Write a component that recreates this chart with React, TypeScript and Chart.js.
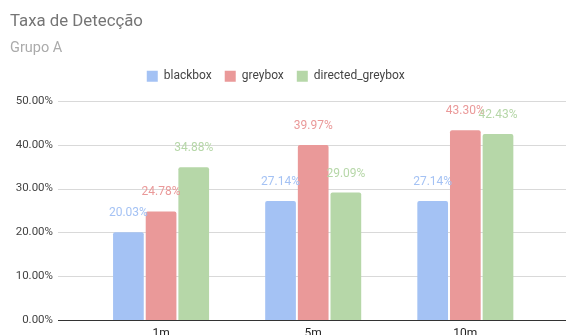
import React, { useEffect, useRef } from "react";
import { Chart, registerables } from "chart.js";

Chart.register(...registerables);

const categories = ["1m", "5m", "10m"];
const seriesNames = ["blackbox", "greybox", "directed_greybox"];
const blackbox = [20.03, 27.14, 27.14];
const greybox = [24.78, 39.97, 43.3];
const directedGreybox = [34.88, 29.09, 42.43];
const seriesColors = ["#a4c2f4", "#ea9999", "#b6d7a8"];
const yTicks = [0, 10, 20, 30, 40, 50];

const FONT = "Roboto";

const legendGap = {
  id: "legendGap",
  beforeLayout(chart: any) {
    const lg = chart.legend;
    if (lg && !lg.__patched) {
      const orig = lg.fit.bind(lg);
      lg.fit = function () {
        orig();
        this.height += 8.8;
      };
      lg.__patched = true;
    }
  },
};

const gridPlugin = {
  id: "customGrid",
  beforeDatasetsDraw(chart: any) {
    const { ctx, chartArea, scales } = chart;
    const y = scales.y;
    ctx.save();
    ctx.lineWidth = 1;
    for (const t of y.ticks) {
      if (t.value === 0) continue;
      const py = Math.round(y.getPixelForValue(t.value)) + 0.5;
      ctx.strokeStyle = "#d9d9d9";
      ctx.beginPath();
      ctx.moveTo(chartArea.left - 27, py);
      ctx.lineTo(chart.width, py);
      ctx.stroke();
    }
    ctx.restore();
  },
  afterDatasetsDraw(chart: any) {
    const { ctx, chartArea, scales } = chart;
    const y = scales.y;
    ctx.save();
    const py = Math.round(y.getPixelForValue(0)) + 0.5;
    ctx.strokeStyle = "#333333";
    ctx.lineWidth = 1;
    ctx.beginPath();
    ctx.moveTo(chartArea.left - 27, py);
    ctx.lineTo(chart.width, py);
    ctx.stroke();

    ctx.font = `12px ${FONT}`;
    ctx.textAlign = "center";
    ctx.textBaseline = "middle";
    chart.data.datasets.forEach((ds: any, i: number) => {
      const meta = chart.getDatasetMeta(i);
      ctx.fillStyle = ds.backgroundColor;
      meta.data.forEach((el: any, j: number) => {
        const v = ds.data[j] as number;
        ctx.fillText(v.toFixed(2) + "%", el.x, el.y - 19);
      });
    });
    ctx.restore();
  },
};

export default function App() {
  const ref = useRef<HTMLCanvasElement>(null);
  useEffect(() => {
    if (!ref.current) return;
    const seriesData = [blackbox, greybox, directedGreybox];
    const chart = new Chart(ref.current, {
      type: "bar",
      data: {
        labels: categories,
        datasets: seriesNames.map((name, i) => ({
          label: name,
          data: seriesData[i],
          backgroundColor: seriesColors[i],
          borderWidth: 0,
          borderRadius: 2,
          categoryPercentage: 0.644,
          barPercentage: 0.94,
        })),
      },
      options: {
        animation: false,
        responsive: false,
        devicePixelRatio: 1,
        layout: { padding: { top: 0, left: 10, right: 24.6, bottom: 0 } },
        plugins: {
          title: {
            display: true,
            text: "Taxa de Detecção",
            align: "start",
            color: "#757575",
            font: { family: FONT, size: 16.8, weight: "normal" },
            padding: { top: 12, bottom: 7.6 },
          },
          subtitle: {
            display: true,
            text: "Grupo A",
            align: "start",
            color: "#ababab",
            font: { family: FONT, size: 14.5, weight: "normal" },
            padding: { top: 0, bottom: 0 },
          },
          legend: {
            display: true,
            position: "top",
            labels: {
              font: { family: FONT, size: 12 },
              color: "#444444",
              boxWidth: 11,
              boxHeight: 11,
              padding: 13,
            },
          },
          tooltip: { enabled: false },
        },
        scales: {
          x: {
            grid: { display: false, drawTicks: false },
            border: { display: false },
            ticks: {
              font: { family: FONT, size: 12 },
              color: "#222222",
              padding: 7,
            },
            afterFit: (s: any) => {
              s.height = 15;
            },
          },
          y: {
            min: 0,
            max: 50,
            grid: { display: false, drawTicks: false },
            border: { display: false },
            ticks: {
              stepSize: 10,
              font: { family: FONT, size: 11.5 },
              color: "#444444",
              padding: 32,
              callback: (v: any) => Number(v).toFixed(2) + "%",
            },
            afterBuildTicks: (s: any) => {
              s.ticks = yTicks.map((v) => ({ value: v }));
            },
            afterFit: (s: any) => {
              s.width = 75;
              s.paddingTop = 7;
              s.paddingBottom = 7;
            },
          },
        },
      },
      plugins: [legendGap, gridPlugin],
    });
    return () => chart.destroy();
  }, []);
  return (
    <div style={{ position: "absolute", left: 0, top: 0, width: 566, height: 335, background: "#fff" }}>
      <canvas ref={ref} width={566} height={335} style={{ display: "block" }} />
    </div>
  );
}
